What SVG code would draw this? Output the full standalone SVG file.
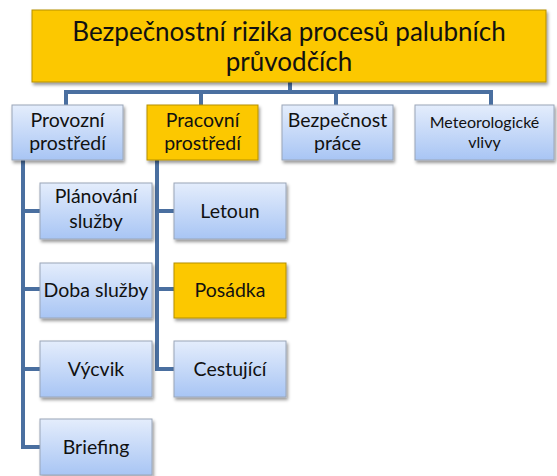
<svg xmlns="http://www.w3.org/2000/svg" width="557" height="476" viewBox="0 0 557 476">
<style>
.blue{fill:url(#gb);stroke:#9aa6b8;stroke-width:1;filter:url(#sh)}
.yel{fill:#fcc800;stroke:#b59000;stroke-width:1;filter:url(#sh)}
.t{font-family:Lato,"Liberation Sans",sans-serif;fill:#111;text-anchor:middle}
.m{font-size:19.5px}
.c{stroke:#4a6fa0;stroke-width:4;fill:none;stroke-linejoin:miter}
</style>
<defs>
<linearGradient id="gb" x1="0" y1="0" x2="0" y2="1">
<stop offset="0" stop-color="#e4edfc"/>
<stop offset="1" stop-color="#a8c5f4"/>
</linearGradient>
<filter id="sh" x="-10%" y="-10%" width="130%" height="140%">
<feDropShadow dx="1.5" dy="2.5" stdDeviation="1.5" flood-color="#000" flood-opacity="0.4"/>
</filter>
</defs>
<rect width="557" height="476" fill="#fff"/>
<g id="connectors">
<path class="c" d="M290 82V92M66 105V92H491V105M201 92V105M336 92V105"/>
<path class="c" d="M23 160V447H40M23 211H40M23 289H40M23 369H40"/>
<path class="c" d="M157 160V369H174M157 211H174M157 289H174"/>
</g>
<g id="root">
<rect class="yel" x="32" y="10" width="514" height="72"/>
<text class="t" x="289" y="41" font-size="26">Bezpečnostní rizika procesů palubních</text>
<text class="t" x="289" y="71" font-size="26">průvodčích</text>
</g>
<g id="provozni">
<rect class="blue" x="12" y="105" width="111" height="55"/>
<text class="t m" x="67.5" y="127">Provozní</text>
<text class="t m" x="67.5" y="150">prostředí</text>
</g>
<g id="pracovni">
<rect class="yel" x="147" y="105" width="111" height="55"/>
<text class="t m" x="202.5" y="127">Pracovní</text>
<text class="t m" x="202.5" y="150">prostředí</text>
</g>
<g id="bezpecnost">
<rect class="blue" x="282" y="105" width="111" height="55"/>
<text class="t m" x="337.5" y="127">Bezpečnost</text>
<text class="t m" x="337.5" y="150">práce</text>
</g>
<g id="meteo">
<rect class="blue" x="415" y="105" width="139" height="55"/>
<text class="t" x="484.5" y="128" font-size="16">Meteorologické</text>
<text class="t" x="484.5" y="148" font-size="16">vlivy</text>
</g>
<g id="planovani">
<rect class="blue" x="40" y="183" width="112" height="56"/>
<text class="t m" x="96" y="203">Plánování</text>
<text class="t m" x="96" y="228">služby</text>
</g>
<g id="doba">
<rect class="blue" x="40" y="263" width="112" height="55"/>
<text class="t m" x="96" y="297">Doba služby</text>
</g>
<g id="vycvik">
<rect class="blue" x="40" y="341" width="112" height="56"/>
<text class="t m" x="96" y="376">Výcvik</text>
</g>
<g id="briefing">
<rect class="blue" x="40" y="419" width="112" height="56"/>
<text class="t m" x="96" y="454">Briefing</text>
</g>
<g id="letoun">
<rect class="blue" x="174" y="183" width="112" height="56"/>
<text class="t m" x="230" y="218">Letoun</text>
</g>
<g id="posadka">
<rect class="yel" x="174" y="263" width="112" height="55"/>
<text class="t m" x="230" y="297">Posádka</text>
</g>
<g id="cestujici">
<rect class="blue" x="174" y="341" width="112" height="56"/>
<text class="t m" x="230" y="376">Cestující</text>
</g>
</svg>
